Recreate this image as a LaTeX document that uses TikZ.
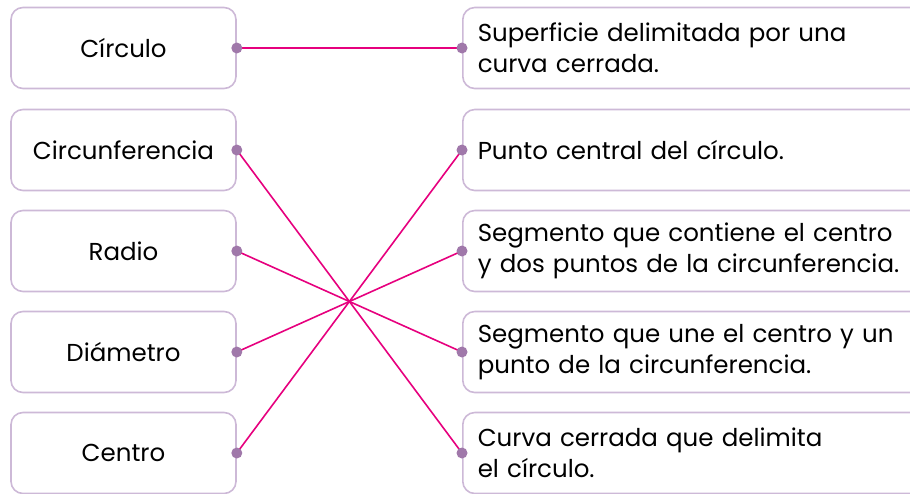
\documentclass[tikz,border=0pt]{standalone}
\usepackage{fontspec}
\setmainfont{Poppins}
\definecolor{boxline}{RGB}{205,185,215}
\definecolor{linkpink}{RGB}{230,0,126}
\definecolor{dotpurple}{RGB}{160,120,170}
\tikzset{
  leftbox/.style={draw=boxline, line width=1.6pt, rounded corners=12pt, minimum width=225pt, minimum height=81pt, inner sep=0pt, font=\fontsize{24.5}{30}\selectfont},
  rightbox/.style={draw=boxline, line width=1.6pt, rounded corners=12pt, minimum width=470pt, minimum height=81pt, anchor=west, text width=440pt, align=left, inner xsep=15pt, inner ysep=0pt, font=\fontsize{24.5}{31}\selectfont},
  link/.style={draw=linkpink, line width=1.6pt},
  pin/.style={fill=dotpurple}
}
\begin{document}
\begin{tikzpicture}[x=1pt,y=-1pt]
            \useasboundingbox (0,0) rectangle (910,493);
            \clip (0,0) rectangle (910,493);
            % Conceptos
            \node[leftbox] (circulo) at (123.5,48) {Círculo};
            \node[leftbox] (circunf) at (123.5,150) {Circunferencia};
            \node[leftbox] (radio) at (123.5,251) {Radio};
            \node[leftbox] (diametro) at (123.5,352) {Diámetro};
            \node[leftbox] (centro) at (123.5,453) {Centro};
            % Definiciones
            \node[rightbox] (superficie) at (462,48) {Superficie delimitada por una\\curva cerrada.};
            \node[rightbox] (punto) at (462,150) {Punto central del círculo.};
            \node[rightbox] (contiene) at (462,251) {Segmento que contiene el centro\\y dos puntos de la circunferencia.};
            \node[rightbox] (une) at (462,352) {Segmento que une el centro y un\\punto de la circunferencia.};
            \node[rightbox] (curva) at (462,453) {Curva cerrada que delimita\\el círculo.};
            % Uniones
            \draw[link] (circulo.east) -- (superficie.west);
            \draw[link] (circunf.east) -- (curva.west);
            \draw[link] (radio.east) -- (une.west);
            \draw[link] (diametro.east) -- (contiene.west);
            \draw[link] (centro.east) -- (punto.west);
            \foreach \n in {circulo,circunf,radio,diametro,centro}
              \fill[pin] (\n.east) circle (5.5);
            \foreach \n in {superficie,punto,contiene,une,curva}
              \fill[pin] (\n.west) circle (5.5);
        \end{tikzpicture}
\end{document}
